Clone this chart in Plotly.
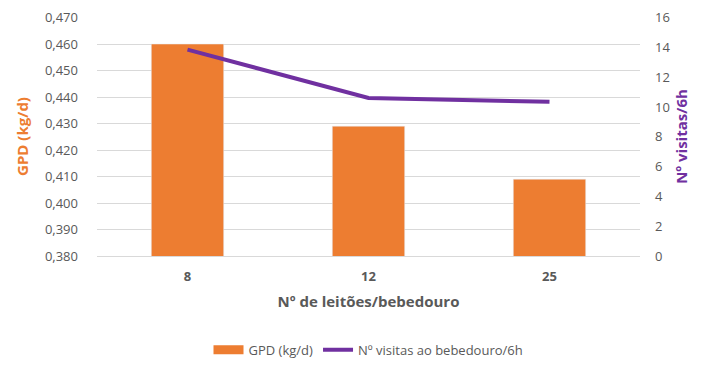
import plotly.graph_objects as go

categories = ["8", "12", "25"]
gpd = [0.460, 0.429, 0.409]
visitas = [13.85, 10.6, 10.35]
left_ticks = [0.38, 0.39, 0.40, 0.41, 0.42, 0.43, 0.44, 0.45, 0.46, 0.47]
left_tick_text = ["0,380", "0,390", "0,400", "0,410", "0,420", "0,430", "0,440", "0,450", "0,460", "0,470"]
right_ticks = [0, 2, 4, 6, 8, 10, 12, 14, 16]

ORANGE = "#ED7D31"
PURPLE = "#7030A0"
GRAY = "#595959"
FONT = "Open Sans"

fig = go.Figure()
fig.add_trace(go.Bar(x=categories, y=gpd, name="GPD (kg/d)", marker_color=ORANGE,
                     width=0.4, yaxis="y", showlegend=False))
# legend entry for the bars drawn as a wide orange swatch
fig.add_trace(go.Scatter(x=[None], y=[None], name="GPD (kg/d)", mode="lines",
                         line=dict(color=ORANGE, width=9), yaxis="y", hoverinfo="skip"))
fig.add_trace(go.Scatter(x=categories, y=visitas, name="Nº visitas ao bebedouro/6h",
                         mode="lines", line=dict(color=PURPLE, width=4), yaxis="y2"))

fig.update_layout(
    width=700, height=356,
    margin=dict(l=89, r=68, t=9, b=108, autoexpand=False),
    paper_bgcolor="white", plot_bgcolor="white",
    font=dict(family=FONT, size=13, color=GRAY),
    xaxis=dict(type="category", showgrid=False, showline=True, linecolor="#D9D9D9",
               automargin=False,
               tickfont=dict(family=FONT, size=13, color=GRAY, weight="bold"),
               ticks="", ticklabelstandoff=8,
               title=dict(text="<b>Nº de leitões/bebedouro</b>", font=dict(size=15, color=GRAY), standoff=12)),
    yaxis=dict(range=[0.38, 0.4702], tickvals=left_ticks, ticktext=left_tick_text,
               showgrid=True, gridcolor="#D9D9D9", gridwidth=1, zeroline=False,
               automargin=False,
               ticks="", ticklabelstandoff=18,
               tickfont=dict(size=13, color=GRAY),
               title=dict(text="<b>GPD (kg/d)</b>", font=dict(size=15, color=ORANGE), standoff=12)),
    yaxis2=dict(range=[0, 16.035], tickvals=right_ticks, overlaying="y", side="right",
                automargin=False,
                showgrid=False, zeroline=False, ticks="", ticklabelstandoff=14,
                tickfont=dict(size=13, color=GRAY),
                title=dict(text="<b>Nº visitas/6h</b>", font=dict(size=15, color=PURPLE), standoff=7)),
    legend=dict(orientation="h", x=0.5, xanchor="center", y=-0.33, yanchor="top",
                font=dict(size=13, color=GRAY), traceorder="normal", itemwidth=30),
    showlegend=True,
)

fig.write_html("out.html")
